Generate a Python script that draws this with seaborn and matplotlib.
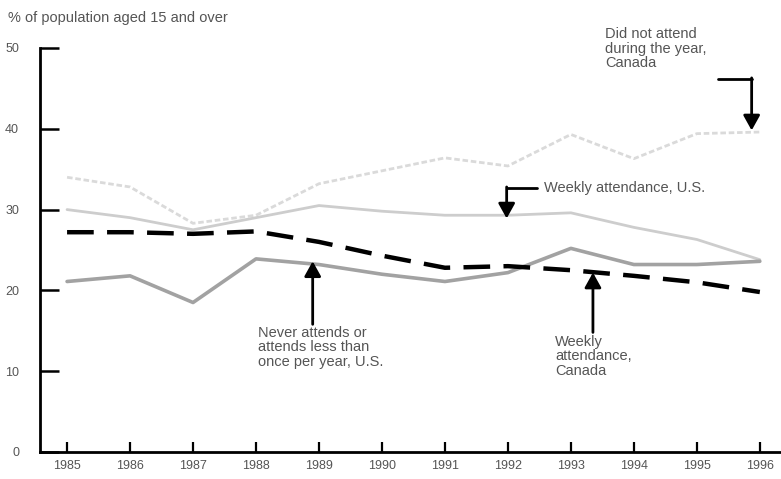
"""
plot.py
Religious attendance, Canada and U.S., 1985-1996 (scanned-style line chart).
"""

import matplotlib
matplotlib.use("Agg")
import matplotlib.pyplot as plt
from matplotlib import font_manager
import seaborn as sns
import pandas as pd

# ---- data ----
years = [1985, 1986, 1987, 1988, 1989, 1990, 1991, 1992, 1993, 1994, 1995, 1996]
did_not_attend_canada = [34.0, 32.8, 28.3, 29.3, 33.2, 34.8, 36.4, 35.4, 39.3, 36.3, 39.4, 39.6]
weekly_us = [30.0, 29.0, 27.5, 29.0, 30.5, 29.8, 29.3, 29.3, 29.6, 27.8, 26.3, 23.8]
never_attends_us = [21.1, 21.8, 18.5, 23.9, 23.2, 22.0, 21.1, 22.2, 25.2, 23.2, 23.2, 23.6]
weekly_canada = [27.2, 27.2, 27.0, 27.3, 26.0, 24.3, 22.8, 23.0, 22.5, 21.8, 21.0, 19.8]
y_ticks = [0, 10, 20, 30, 40, 50]

TEXT_COLOR = "#555555"
installed = {f.name for f in font_manager.fontManager.ttflist}
FONT = [f for f in ["Liberation Sans Narrow", "Liberation Sans", "DejaVu Sans"] if f in installed]

sns.set_style("white")
plt.rcParams["font.family"] = FONT

df = pd.DataFrame({
    "year": years,
    "did_not_attend_canada": did_not_attend_canada,
    "weekly_us": weekly_us,
    "never_attends_us": never_attends_us,
    "weekly_canada": weekly_canada,
})

fig = plt.figure(figsize=(7.81, 4.79), dpi=100)
ax = fig.add_axes([0.0512, 0.0564, 0.9475, 0.8434])

sns.lineplot(data=df, x="year", y="did_not_attend_canada", ax=ax,
             color="#dadada", linewidth=2.0, linestyle=(0, (2, 1)))
sns.lineplot(data=df, x="year", y="weekly_us", ax=ax,
             color="#cdcdcd", linewidth=2.0)
sns.lineplot(data=df, x="year", y="never_attends_us", ax=ax,
             color="#a2a2a2", linewidth=2.6)
sns.lineplot(data=df, x="year", y="weekly_canada", ax=ax,
             color="black", linewidth=3.2, linestyle=(0, (6, 3)))

ax.set_xlim(1984.57, 1996.32)
ax.set_ylim(0, 50)
ax.set_xticks(years)
ax.set_xticklabels([str(y) for y in years])
ax.set_yticks(y_ticks)
ax.set_xlabel("")
ax.set_ylabel("")

for side in ["top", "right"]:
    ax.spines[side].set_visible(False)
for side in ["left", "bottom"]:
    ax.spines[side].set_color("black")
    ax.spines[side].set_linewidth(2.0)

ax.tick_params(axis="y", left=True, direction="in", length=14, width=1.8, color="black",
               labelsize=9, labelcolor=TEXT_COLOR, pad=15)
ax.tick_params(axis="x", bottom=True, direction="in", length=7, width=1.6, color="black",
               labelsize=9, labelcolor=TEXT_COLOR, pad=6)

fig.text(0.01, 0.962, "% of population aged 15 and over", fontsize=10.5,
         color=TEXT_COLOR, ha="left", va="center")

arrow = dict(arrowstyle="-|>,head_length=0.9,head_width=0.5", color="black",
             linewidth=2.0, shrinkA=0, shrinkB=0)
note = dict(fontsize=10.5, color=TEXT_COLOR, linespacing=1.05)

# Did not attend, Canada
ax.text(1993.54, 52.6, "Did not attend\nduring the year,\nCanada", ha="left", va="top",
        clip_on=False, **note)
ax.plot([1995.33, 1995.87], [46.2, 46.2], color="black", linewidth=2.0)
ax.annotate("", xy=(1995.87, 39.8), xytext=(1995.87, 46.3), arrowprops=arrow)

# Weekly attendance, U.S.
ax.text(1992.58, 32.7, "Weekly attendance, U.S.", ha="left", va="center", **note)
ax.plot([1992.46, 1991.98], [32.7, 32.7], color="black", linewidth=2.0)
ax.annotate("", xy=(1991.98, 28.9), xytext=(1991.98, 32.8), arrowprops=arrow)

# Never attends, U.S.
ax.text(1988.03, 15.6, "Never attends or\nattends less than\nonce per year, U.S.",
        ha="left", va="top", **note)
ax.annotate("", xy=(1988.9, 23.6), xytext=(1988.9, 15.8), arrowprops=arrow)

# Weekly attendance, Canada
ax.text(1992.75, 14.5, "Weekly\nattendance,\nCanada", ha="left", va="top", **note)
ax.annotate("", xy=(1993.35, 22.2), xytext=(1993.35, 14.8), arrowprops=arrow)

fig.savefig("out.png", dpi=100)
